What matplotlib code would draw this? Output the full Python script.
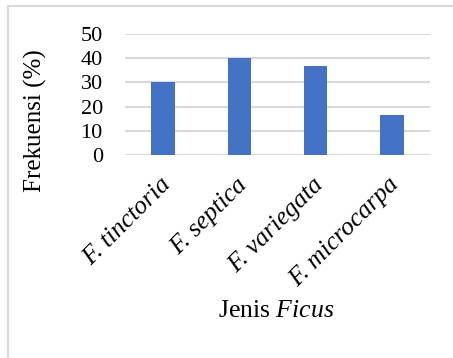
import matplotlib
matplotlib.use("Agg")
import matplotlib.pyplot as plt
from matplotlib.lines import Line2D
from matplotlib.transforms import ScaledTranslation

plt.rcParams["font.family"] = ["Liberation Serif", "DejaVu Serif"]
plt.rcParams["mathtext.fontset"] = "custom"
plt.rcParams["mathtext.rm"] = "Liberation Serif"
plt.rcParams["mathtext.it"] = "Liberation Serif:italic"

species = ["F. tinctoria", "F. septica", "F. variegata", "F. microcarpa"]
frekuensi = [30.0, 40.0, 36.67, 16.67]
y_ticks = [0, 10, 20, 30, 40, 50]

W, H = 453, 358
fig = plt.figure(figsize=(W / 100, H / 100), dpi=100)
ax = fig.add_axes([125 / W, 1 - 155 / H, (430 - 125) / W, (155 - 34) / H])

x = range(len(species))
ax.bar(x, frekuensi, width=0.31, color="#4472C4", zorder=3)

ax.set_xlim(-0.5, len(species) - 0.5)
ax.set_ylim(0, 50)
ax.set_yticks(y_ticks)
ax.yaxis.grid(True, color="#d9d9d9", linewidth=1.5, zorder=0)
ax.set_axisbelow(True)
for s in ax.spines.values():
    s.set_visible(False)

ax.tick_params(axis="y", length=0, pad=16, labelsize=16)
ax.set_yticklabels([str(v) for v in y_ticks])
ax.set_xticks(list(x))
ax.tick_params(axis="x", length=0, pad=19)
ax.set_xticklabels(species, rotation=45, ha="right", va="center",
                   rotation_mode="anchor", style="italic", fontsize=18.5)
for lab in ax.get_xticklabels():
    lab.set_transform(lab.get_transform() + ScaledTranslation(4 / 100, 0, fig.dpi_scale_trans))

ax.set_ylabel("Frekuensi (%)", fontsize=18)
ax.yaxis.set_label_coords(35 / W, 1 - 121 / H, transform=fig.transFigure)
ax.yaxis.label.set_verticalalignment("center")
fig.text(276 / W, 1 - 311 / H, "Jenis $\\mathit{Ficus}$", fontsize=18.5,
         ha="center", va="center")

# chart border (left and top edges)
frame_color = "#d9d9d9"
fig.add_artist(Line2D([7.5 / W, 7.5 / W], [0, 1 - 5.5 / H], transform=fig.transFigure,
                      color=frame_color, linewidth=1.5))
fig.add_artist(Line2D([7.5 / W, 1], [1 - 5.5 / H, 1 - 5.5 / H], transform=fig.transFigure,
                      color=frame_color, linewidth=1.5))

fig.savefig("out.png", dpi=100)
